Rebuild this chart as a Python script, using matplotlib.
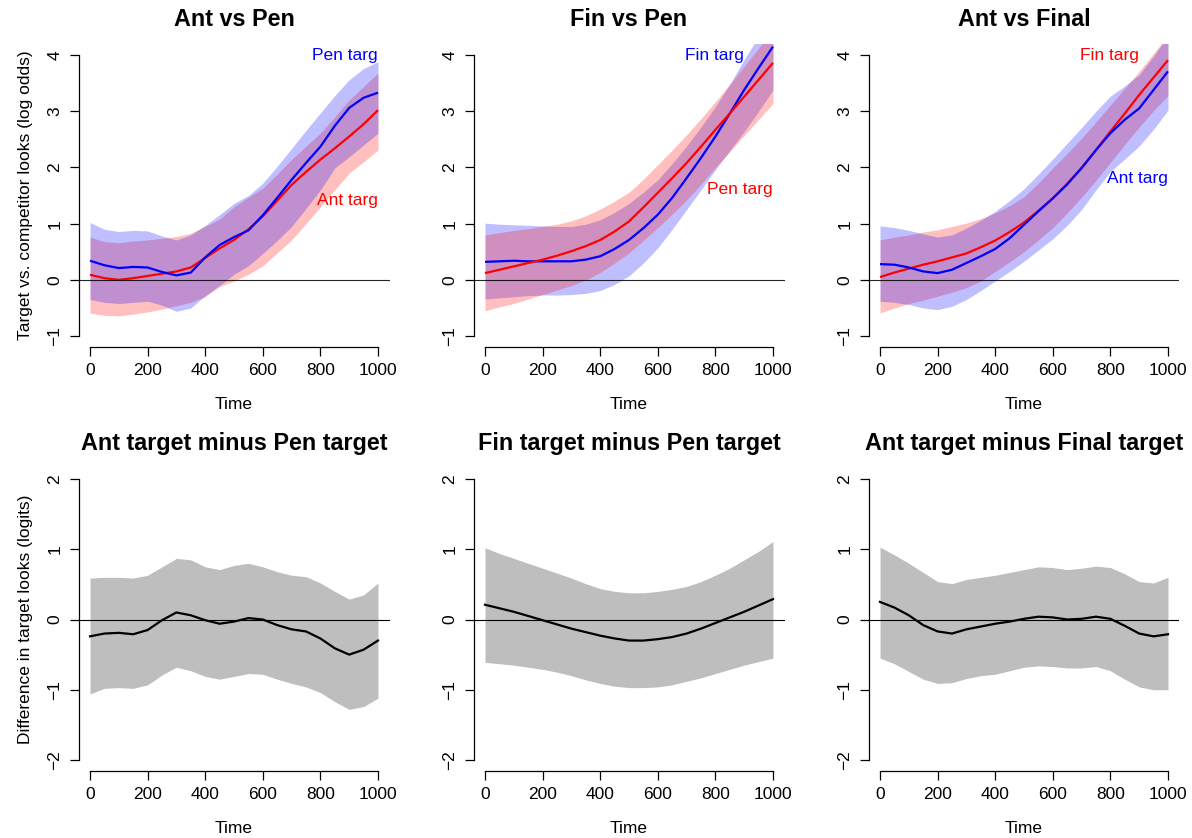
import matplotlib
matplotlib.use("Agg")
import matplotlib.pyplot as plt
import numpy as np

plt.rcParams["font.family"] = ["Liberation Sans", "DejaVu Sans"]

# Time axis (ms), shared by every panel
time = np.arange(0, 1001, 50)

# ---- Ant vs Pen ----
ant_pen_ant_mean = [0.09, 0.03, 0.00, 0.03, 0.07, 0.11, 0.15, 0.22, 0.39, 0.56, 0.71,
                    0.90, 1.13, 1.41, 1.69, 1.92, 2.14, 2.34, 2.55, 2.77, 3.02]
ant_pen_ant_hi = [0.76, 0.68, 0.66, 0.69, 0.71, 0.74, 0.77, 0.83, 0.95, 1.08, 1.30,
                  1.47, 1.63, 1.88, 2.14, 2.38, 2.61, 2.90, 3.20, 3.44, 3.68]
ant_pen_ant_lo = [-0.59, -0.63, -0.64, -0.61, -0.57, -0.52, -0.46, -0.40, -0.30, -0.12, -0.02,
                  0.10, 0.25, 0.48, 0.71, 1.00, 1.30, 1.60, 1.90, 2.10, 2.31]
ant_pen_pen_mean = [0.34, 0.26, 0.21, 0.23, 0.22, 0.14, 0.08, 0.13, 0.40, 0.62, 0.76,
                    0.88, 1.15, 1.46, 1.78, 2.08, 2.37, 2.74, 3.06, 3.24, 3.33]
ant_pen_pen_hi = [1.02, 0.90, 0.86, 0.88, 0.87, 0.78, 0.71, 0.80, 0.97, 1.16, 1.36,
                  1.50, 1.72, 2.02, 2.34, 2.66, 2.97, 3.28, 3.56, 3.76, 3.88]
ant_pen_pen_lo = [-0.35, -0.40, -0.42, -0.40, -0.38, -0.45, -0.56, -0.50, -0.28, -0.10, 0.10,
                  0.25, 0.47, 0.70, 0.95, 1.27, 1.60, 1.99, 2.19, 2.40, 2.61]

# ---- Fin vs Pen ----
fin_pen_fin_mean = [0.32, 0.33, 0.34, 0.33, 0.33, 0.33, 0.33, 0.36, 0.42, 0.55, 0.71,
                    0.92, 1.16, 1.46, 1.81, 2.17, 2.55, 2.96, 3.38, 3.77, 4.15]
fin_pen_fin_hi = [1.01, 0.99, 0.98, 0.97, 0.96, 0.95, 0.95, 0.99, 1.07, 1.20, 1.36,
                  1.56, 1.78, 2.07, 2.38, 2.72, 3.08, 3.48, 3.92, 4.33, 4.75]
fin_pen_fin_lo = [-0.34, -0.32, -0.30, -0.28, -0.27, -0.27, -0.26, -0.24, -0.19, -0.08, 0.07,
                  0.30, 0.57, 0.90, 1.25, 1.60, 1.96, 2.30, 2.64, 3.00, 3.38]
fin_pen_pen_mean = [0.12, 0.18, 0.24, 0.30, 0.36, 0.43, 0.51, 0.60, 0.71, 0.86, 1.04,
                    1.29, 1.55, 1.81, 2.08, 2.37, 2.67, 2.96, 3.26, 3.56, 3.86]
fin_pen_pen_hi = [0.80, 0.84, 0.88, 0.91, 0.95, 0.99, 1.05, 1.14, 1.26, 1.40, 1.56,
                  1.79, 2.05, 2.31, 2.58, 2.87, 3.17, 3.48, 3.80, 4.12, 4.45]
fin_pen_pen_lo = [-0.55, -0.48, -0.42, -0.34, -0.26, -0.18, -0.10, 0.00, 0.13, 0.30, 0.48,
                  0.70, 0.93, 1.17, 1.42, 1.70, 2.00, 2.28, 2.57, 2.85, 3.14]

# ---- Ant vs Final ----
ant_fin_fin_mean = [0.05, 0.13, 0.20, 0.27, 0.33, 0.40, 0.47, 0.58, 0.70, 0.85, 1.02,
                    1.23, 1.45, 1.71, 1.99, 2.31, 2.64, 2.96, 3.29, 3.60, 3.91]
ant_fin_fin_hi = [0.71, 0.76, 0.80, 0.85, 0.89, 0.95, 1.01, 1.09, 1.19, 1.32, 1.48,
                  1.72, 1.99, 2.25, 2.52, 2.81, 3.11, 3.41, 3.71, 4.03, 4.35]
ant_fin_fin_lo = [-0.59, -0.50, -0.42, -0.36, -0.29, -0.22, -0.14, -0.02, 0.15, 0.32, 0.50,
                  0.71, 0.93, 1.19, 1.47, 1.77, 2.09, 2.41, 2.72, 3.01, 3.28]
ant_fin_ant_mean = [0.28, 0.27, 0.22, 0.15, 0.12, 0.18, 0.30, 0.42, 0.55, 0.74, 0.98,
                    1.22, 1.45, 1.70, 1.99, 2.31, 2.61, 2.85, 3.05, 3.38, 3.71]
ant_fin_ant_hi = [0.96, 0.93, 0.88, 0.82, 0.76, 0.80, 0.92, 1.06, 1.22, 1.41, 1.62,
                  1.88, 2.15, 2.43, 2.71, 3.00, 3.27, 3.45, 3.65, 3.98, 4.35]
ant_fin_ant_lo = [-0.38, -0.40, -0.44, -0.50, -0.53, -0.47, -0.35, -0.19, -0.02, 0.15, 0.33,
                  0.53, 0.73, 0.97, 1.25, 1.60, 1.93, 2.15, 2.38, 2.68, 3.02]

# ---- Difference curves ----
diff_ant_pen_mean = [-0.24, -0.20, -0.19, -0.21, -0.15, -0.01, 0.10, 0.06, -0.01, -0.06, -0.03,
                     0.02, 0.00, -0.08, -0.14, -0.17, -0.27, -0.41, -0.50, -0.43, -0.30]
diff_ant_pen_hi = [0.59, 0.60, 0.60, 0.59, 0.63, 0.75, 0.87, 0.85, 0.75, 0.71, 0.77,
                   0.80, 0.75, 0.68, 0.63, 0.61, 0.52, 0.40, 0.29, 0.35, 0.52]
diff_ant_pen_lo = [-1.06, -0.98, -0.97, -0.98, -0.93, -0.79, -0.68, -0.73, -0.81, -0.85, -0.81,
                   -0.77, -0.78, -0.85, -0.91, -0.96, -1.04, -1.17, -1.28, -1.24, -1.12]

diff_fin_pen_mean = [0.21, 0.16, 0.11, 0.05, -0.01, -0.07, -0.13, -0.18, -0.23, -0.27, -0.30,
                     -0.30, -0.28, -0.25, -0.20, -0.13, -0.05, 0.03, 0.11, 0.20, 0.29]
diff_fin_pen_hi = [1.02, 0.94, 0.87, 0.80, 0.73, 0.66, 0.59, 0.51, 0.44, 0.40, 0.38,
                   0.38, 0.40, 0.43, 0.47, 0.54, 0.63, 0.73, 0.85, 0.97, 1.11]
diff_fin_pen_lo = [-0.61, -0.63, -0.65, -0.68, -0.71, -0.75, -0.80, -0.86, -0.91, -0.95, -0.97,
                   -0.97, -0.96, -0.93, -0.88, -0.83, -0.77, -0.71, -0.65, -0.60, -0.55]

diff_ant_fin_mean = [0.25, 0.17, 0.06, -0.08, -0.17, -0.20, -0.14, -0.10, -0.06, -0.03, 0.01,
                     0.04, 0.03, 0.00, 0.01, 0.04, 0.01, -0.09, -0.20, -0.24, -0.21]
diff_ant_fin_hi = [1.03, 0.92, 0.80, 0.67, 0.54, 0.51, 0.57, 0.60, 0.63, 0.67, 0.71,
                   0.75, 0.74, 0.71, 0.73, 0.76, 0.74, 0.65, 0.54, 0.52, 0.60]
diff_ant_fin_lo = [-0.55, -0.63, -0.74, -0.85, -0.91, -0.90, -0.84, -0.80, -0.78, -0.73, -0.68,
                   -0.66, -0.67, -0.69, -0.69, -0.67, -0.73, -0.85, -0.96, -1.00, -1.00]

# Panel titles, label text
top_titles = ["Ant vs Pen", "Fin vs Pen", "Ant vs Final"]
bottom_titles = ["Ant target minus Pen target", "Fin target minus Pen target",
                 "Ant target minus Final target"]
top_ylabel = "Target vs. competitor looks (log odds)"
bottom_ylabel = "Difference in target looks (logits)"
xlabel = "Time"

RED = "#FF0000"
BLUE = "#0000FF"
SHADE = "#BEBEBE"

W, H = 1192, 838
fig = plt.figure(figsize=(W / 100, H / 100), dpi=100)

lefts = [78.5, 473.5, 868.5]
pw = 311.0
top_y0, top_y1 = 43.8, 347.3
bot_y0, bot_y1 = 467.8, 771.2

TICK_FS = 12.5
TITLE_FS = 16.8


def make_axes(left, y0, y1):
    return fig.add_axes([left / W, 1 - y1 / H, pw / W, (y1 - y0) / H])


def style_axes(ax, ylim, yticks, title, ylabel=None):
    ax.set_xlim(-40, 1040)
    pad = (ylim[1] - ylim[0]) * 0.04
    ax.set_ylim(ylim[0] - pad, ylim[1] + pad)
    ax.set_xticks([0, 200, 400, 600, 800, 1000])
    ax.set_yticks(yticks)
    ax.set_yticklabels([str(v).replace("-", "\u2212") for v in yticks])
    for s in ("top", "right"):
        ax.spines[s].set_visible(False)
    ax.spines["bottom"].set_bounds(0, 1000)
    ax.spines["left"].set_bounds(ylim[0], ylim[1])
    for s in ("bottom", "left"):
        ax.spines[s].set_linewidth(0.9)
    ax.tick_params(direction="out", length=6.5, width=0.9, pad=5,
                   labelsize=TICK_FS)
    ax.tick_params(axis="y", labelrotation=90)
    for lab in ax.get_yticklabels():
        lab.set_va("center")
    ax.set_title(title, fontsize=TITLE_FS, fontweight="bold", pad=12.8)
    ax.set_xlabel(xlabel, fontsize=TICK_FS)
    ax.xaxis.set_label_coords(0.5, -0.165)
    if ylabel:
        ax.set_ylabel(ylabel, fontsize=TICK_FS)
        ax.yaxis.set_label_coords(-0.145, 0.5)


def band(ax, lo, hi, mean, color):
    ax.fill_between(time, lo, hi, color=color, alpha=0.25, linewidth=0)
    ax.plot(time, mean, color=color, lw=1.6, solid_capstyle="butt")


# Top row: model fits for each condition pair
top_panels = [
    # (first drawn, second drawn, labels)
    ((ant_pen_ant_lo, ant_pen_ant_hi, ant_pen_ant_mean, RED),
     (ant_pen_pen_lo, ant_pen_pen_hi, ant_pen_pen_mean, BLUE),
     [("Pen targ", 1000, 4.0, BLUE), ("Ant targ", 1000, 1.42, RED)]),
    ((fin_pen_fin_lo, fin_pen_fin_hi, fin_pen_fin_mean, BLUE),
     (fin_pen_pen_lo, fin_pen_pen_hi, fin_pen_pen_mean, RED),
     [("Fin targ", 898, 4.0, BLUE), ("Pen targ", 1000, 1.61, RED)]),
    ((ant_fin_fin_lo, ant_fin_fin_hi, ant_fin_fin_mean, RED),
     (ant_fin_ant_lo, ant_fin_ant_hi, ant_fin_ant_mean, BLUE),
     [("Fin targ", 899, 4.0, RED), ("Ant targ", 1000, 1.81, BLUE)]),
]

for i, (first, second, labels) in enumerate(top_panels):
    ax = make_axes(lefts[i], top_y0, top_y1)
    band(ax, first[0], first[1], first[2], first[3])
    band(ax, second[0], second[1], second[2], second[3])
    ax.axhline(0, color="black", lw=0.8, alpha=0.85)
    for txt, x, y, c in labels:
        ax.text(x, y, txt, color=c, fontsize=TICK_FS, ha="right", va="center")
    style_axes(ax, (-1, 4), [-1, 0, 1, 2, 3, 4], top_titles[i],
               top_ylabel if i == 0 else None)

# Bottom row: difference curves with confidence bands
diffs = [
    (diff_ant_pen_lo, diff_ant_pen_hi, diff_ant_pen_mean),
    (diff_fin_pen_lo, diff_fin_pen_hi, diff_fin_pen_mean),
    (diff_ant_fin_lo, diff_ant_fin_hi, diff_ant_fin_mean),
]
for i, (lo, hi, mean) in enumerate(diffs):
    ax = make_axes(lefts[i], bot_y0, bot_y1)
    ax.fill_between(time, lo, hi, color=SHADE, linewidth=0)
    ax.plot(time, mean, color="black", lw=1.6)
    ax.axhline(0, color="black", lw=0.8)
    style_axes(ax, (-2, 2), [-2, -1, 0, 1, 2], bottom_titles[i],
               bottom_ylabel if i == 0 else None)

fig.savefig("out.png", dpi=100, facecolor="white")
